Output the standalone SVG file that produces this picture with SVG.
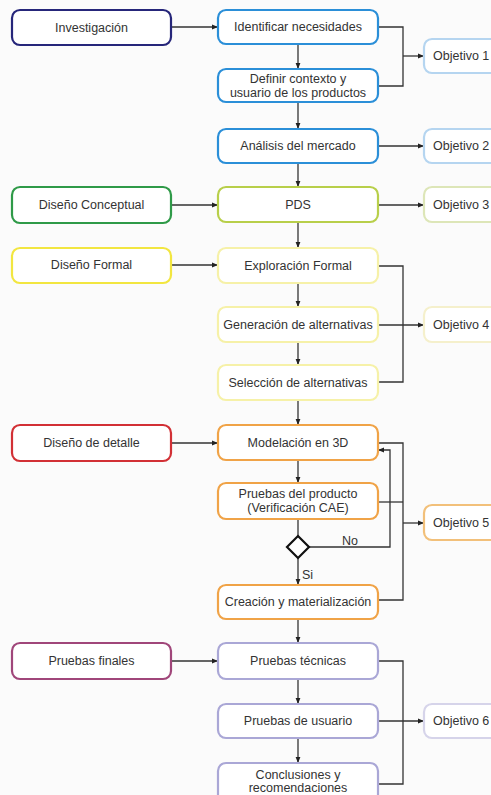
<svg xmlns="http://www.w3.org/2000/svg" width="491" height="795" viewBox="0 0 491 795">
<style>
.b{fill:#fff;stroke-width:2.2}
.t{font-family:"Liberation Sans",Arial,sans-serif;font-size:12.5px;fill:#333;text-anchor:middle;dominant-baseline:central}
.to{font-family:"Liberation Sans",Arial,sans-serif;font-size:12.5px;fill:#333;dominant-baseline:central}
.c{fill:none;stroke:#333;stroke-width:1.3}
.a{fill:none;stroke:#333;stroke-width:1.3;marker-end:url(#ah)}
</style>
<defs>
<marker id="ah" viewBox="0 0 10 10" refX="10" refY="5" markerWidth="6" markerHeight="6" markerUnits="userSpaceOnUse" orient="auto">
<path d="M0,1 L10,5 L0,9 z" fill="#222"/>
</marker>
</defs>
<rect width="491" height="795" fill="#fbfbfb"/>
<g id="connectors">
<path class="a" d="M171,27 H218"/>
<path class="a" d="M298,44 V69"/>
<path class="a" d="M298,102 V129"/>
<path class="c" d="M378,27 H403 V86 H378"/>
<path class="a" d="M403,56 H424"/>
<path class="a" d="M378,146 H424"/>
<path class="a" d="M298,163 V187"/>
<path class="a" d="M171,205 H218"/>
<path class="a" d="M378,205 H424"/>
<path class="a" d="M298,222 V248"/>
<path class="a" d="M171,265 H218"/>
<path class="a" d="M298,283 V307"/>
<path class="a" d="M298,342 V365"/>
<path class="c" d="M378,266 H403 V382 H378"/>
<path class="a" d="M378,325 H424"/>
<path class="a" d="M298,400 V425"/>
<path class="a" d="M171,443 H218"/>
<path class="a" d="M298,460 V483"/>
<path class="c" d="M298,519 V536"/>
<path class="a" d="M309,547 H390 V450 H378"/>
<path class="a" d="M298,558 V585"/>
<path class="c" d="M378,443 H403 V600 H378"/>
<path class="c" d="M378,502 H403"/>
<path class="a" d="M403,523 H424"/>
<path class="a" d="M298,619 V643"/>
<path class="a" d="M171,661 H218"/>
<path class="a" d="M298,679 V704"/>
<path class="a" d="M298,738 V763"/>
<path class="c" d="M378,661 H403 V784 H378"/>
<path class="a" d="M378,721 H424"/>
<text class="to" x="342" y="541">No</text>
<text class="to" x="302" y="575">Si</text>
</g>
<g id="investigacion"><rect class="b" x="12" y="10" width="159" height="35" rx="8" stroke="#26267a"/><text class="t" x="91.5" y="27.5">Investigación</text></g>
<g id="identificar"><rect class="b" x="218" y="10" width="160" height="34" rx="8" stroke="#2b8fd8"/><text class="t" x="298" y="27">Identificar necesidades</text></g>
<g id="definir"><rect class="b" x="218" y="69" width="160" height="33" rx="8" stroke="#2b8fd8"/><text class="t" x="298" y="79">Definir contexto y</text><text class="t" x="298" y="93">usuario de los productos</text></g>
<g id="analisis"><rect class="b" x="218" y="129" width="160" height="34" rx="8" stroke="#2b8fd8"/><text class="t" x="298" y="146">Análisis del mercado</text></g>
<g id="obj1"><rect class="b" x="424" y="39" width="80" height="34" rx="8" stroke="#b5d5f0"/><text class="to" x="433" y="56">Objetivo 1</text></g>
<g id="obj2"><rect class="b" x="424" y="129" width="80" height="34" rx="8" stroke="#b5d5f0"/><text class="to" x="433" y="146">Objetivo 2</text></g>
<g id="conceptual"><rect class="b" x="12" y="187" width="159" height="36" rx="8" stroke="#2f9a48"/><text class="t" x="91.5" y="205">Diseño Conceptual</text></g>
<g id="pds"><rect class="b" x="218" y="187" width="160" height="35" rx="8" stroke="#b8cf4a"/><text class="t" x="298" y="205">PDS</text></g>
<g id="obj3"><rect class="b" x="424" y="187" width="80" height="35" rx="8" stroke="#dde6b8"/><text class="to" x="433" y="205">Objetivo 3</text></g>
<g id="formal"><rect class="b" x="12" y="248" width="159" height="35" rx="8" stroke="#f2e640"/><text class="t" x="91.5" y="265">Diseño Formal</text></g>
<g id="exploracion"><rect class="b" x="218" y="248" width="160" height="35" rx="8" stroke="#f6f1a8"/><text class="t" x="298" y="265.5">Exploración Formal</text></g>
<g id="generacion"><rect class="b" x="218" y="307" width="160" height="35" rx="8" stroke="#f6f1a8"/><text class="t" x="298" y="325">Generación de alternativas</text></g>
<g id="obj4"><rect class="b" x="424" y="307" width="80" height="35" rx="8" stroke="#f5f0cc"/><text class="to" x="433" y="325">Objetivo 4</text></g>
<g id="seleccion"><rect class="b" x="218" y="365" width="160" height="35" rx="8" stroke="#f6f1a8"/><text class="t" x="298" y="383">Selección de alternativas</text></g>
<g id="detalle"><rect class="b" x="12" y="425" width="159" height="36" rx="8" stroke="#d23035"/><text class="t" x="91.5" y="443">Diseño de detalle</text></g>
<g id="modelacion"><rect class="b" x="218" y="425" width="160" height="35" rx="8" stroke="#f0a347"/><text class="t" x="298" y="443">Modelación en 3D</text></g>
<g id="pruebas-producto"><rect class="b" x="218" y="483" width="160" height="36" rx="8" stroke="#f0a347"/><text class="t" x="298" y="494">Pruebas del producto</text><text class="t" x="298" y="508">(Verificación CAE)</text></g>
<g id="decision"><polygon points="298,536 309,547 298,558 287,547" fill="#fff" stroke="#111" stroke-width="2.2"/></g>
<g id="obj5"><rect class="b" x="424" y="505" width="80" height="35" rx="8" stroke="#f2c07a"/><text class="to" x="433" y="523">Objetivo 5</text></g>
<g id="creacion"><rect class="b" x="218" y="585" width="160" height="34" rx="8" stroke="#f0a347"/><text class="t" x="298" y="602">Creación y materialización</text></g>
<g id="finales"><rect class="b" x="12" y="643" width="159" height="36" rx="8" stroke="#a0467a"/><text class="t" x="91.5" y="661">Pruebas finales</text></g>
<g id="tecnicas"><rect class="b" x="218" y="643" width="160" height="36" rx="8" stroke="#aaa7d6"/><text class="t" x="298" y="661">Pruebas técnicas</text></g>
<g id="usuario"><rect class="b" x="218" y="704" width="160" height="34" rx="8" stroke="#aaa7d6"/><text class="t" x="298" y="721">Pruebas de usuario</text></g>
<g id="obj6"><rect class="b" x="424" y="704" width="80" height="34" rx="8" stroke="#d6d4ea"/><text class="to" x="433" y="721">Objetivo 6</text></g>
<g id="conclusiones"><rect class="b" x="218" y="763" width="160" height="40" rx="8" stroke="#aaa7d6"/><text class="t" x="298" y="775">Conclusiones y</text><text class="t" x="298" y="788">recomendaciones</text></g>
</svg>
